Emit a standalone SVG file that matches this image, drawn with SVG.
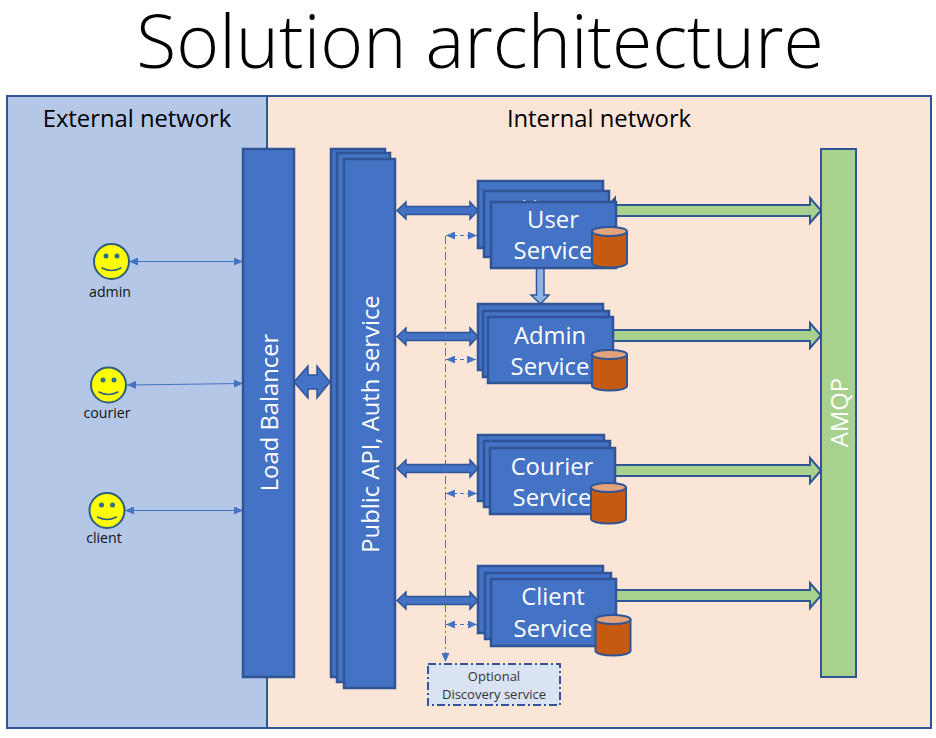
<svg xmlns="http://www.w3.org/2000/svg" width="936" height="738" viewBox="0 0 936 738">
<style>
text{font-family:"Open Sans","Noto Sans","Liberation Sans",sans-serif;text-anchor:middle}
.b{fill:#4472c4;stroke:#2f5597;stroke-width:2.5}
.ba{fill:#4472c4;stroke:#2f5597;stroke-width:1.5}
.g{fill:#a9d18e;stroke:#2f5597;stroke-width:2}
.w{fill:#fff;font-size:23.800px}
.h{fill:#000;font-size:23.800px}
.s{fill:#111;font-size:14.200px}
.f{fill:#ffff00;stroke:#2f5f7f;stroke-width:2}
.e{fill:#2f6f7f;stroke:none}
.m{fill:none;stroke:#2f5f7f;stroke-width:1.5;stroke-linecap:round}
.c{fill:#c55a11;stroke:#2f5597;stroke-width:2}
.t{fill:#e2a27c;stroke:#2f5597;stroke-width:2}
.thin{stroke:#4472c4;stroke-width:1;fill:none;marker-start:url(#as);marker-end:url(#ae)}
.dash{stroke:#4472c4;stroke-width:1;fill:none;stroke-dasharray:4 3;marker-start:url(#as);marker-end:url(#ae)}
</style>
<defs>
<marker id="ae" markerUnits="userSpaceOnUse" markerWidth="9" markerHeight="8" refX="9" refY="4" orient="auto"><path d="M0 0L9 4L0 8Z" fill="#4472c4"/></marker>
<marker id="as" markerUnits="userSpaceOnUse" markerWidth="9" markerHeight="8" refX="0" refY="4" orient="auto"><path d="M9 0L0 4L9 8Z" fill="#4472c4"/></marker>
<g id="cyl"><path class="c" d="M0 4.500V36a17.500 4.500 0 0 0 35 0V4.500Z"/><ellipse class="t" cx="17.500" cy="4.500" rx="17.500" ry="4.500"/></g>
</defs>
<rect width="936" height="738" fill="#fff"/>
<text id="title" x="480" y="68" font-size="73.300" font-weight="300" fill="#000">Solution architecture</text>
<g id="external-network"><rect x="7" y="96" width="260" height="632" fill="#b4c7e7" stroke="#2f5597" stroke-width="2"/><text class="h" x="137" y="127">External network</text></g>
<g id="internal-network"><rect x="267" y="96" width="664" height="632" fill="#fbe5d6" stroke="#2f5597" stroke-width="2"/><text class="h" x="599" y="127">Internal network</text></g>

<g id="connectors">
<path class="thin" d="M129 261.500H243"/>
<path class="thin" d="M127 385L243 383.500"/>
<path class="thin" d="M125 510.500H243"/>
<path class="ba" d="M294 382L308 366V375H317V366L330 382L317 398V389H308V398Z"/>
<path class="ba" d="M397 210.500L406 202V206.500H470V202L478 210.500L470 219V214.500H406V219Z"/>
<path class="ba" d="M397 336.500L406 328V332.500H470V328L478 336.500L470 345V340.500H406V345Z"/>
<path class="ba" d="M397 468.500L406 460V464.500H470V460L478 468.500L470 477V472.500H406V477Z"/>
<path class="ba" d="M397 600.500L406 592V596.500H470V592L478 600.500L470 609V604.500H406V609Z"/>
<path class="g" d="M604 210.500L615 198V205H810V198L821 210.500L810 223V216H615V223Z"/>
<path class="g" d="M610 330H810V323L821 335.500L810 348V341H610Z"/>
<path class="g" d="M610 465H810V458L821 470.500L810 483V476H610Z"/>
<path class="g" d="M610 590H810V583L821 595.500L810 608V601H610Z"/>
<path d="M536.500 268H544V295H549L540.500 304L531 295H536.500Z" fill="#8fb4e3" stroke="#2f5597" stroke-width="1.500"/>
<path class="dash" d="M446 235.500H477"/>
<path class="dash" d="M446 359.500H476"/>
<path class="dash" d="M446 493.500H477"/>
<path class="dash" d="M446 624.500H477"/>
<path d="M445.500 236V662" stroke="#4472c4" stroke-width="1" fill="none" stroke-dasharray="8 3 2 3" marker-end="url(#ae)"/>
</g>

<g id="load-balancer"><rect class="b" x="243" y="149" width="51" height="528"/><text class="w" transform="translate(278 412.500) rotate(-90)">Load Balancer</text></g>
<g id="public-api"><rect class="b" x="331" y="149" width="54" height="528"/><rect class="b" x="337" y="153" width="53" height="529"/><rect class="b" x="344" y="159" width="51" height="529"/><text class="w" transform="translate(379 424) rotate(-90)">Public API, Auth service</text></g>
<g id="amqp"><rect class="g" x="821" y="149" width="35" height="528"/><text class="w" transform="translate(848 412.500) rotate(-90)">AMQP</text></g>

<g id="user-service"><rect class="b" x="478" y="181" width="125" height="67"/><rect class="b" x="484" y="191" width="125" height="66"/><text class="w" x="547" y="217">User</text><rect class="b" x="491" y="202" width="125" height="66"/><text class="w" x="553" y="228">User</text><text class="w" x="553" y="259">Service</text><use href="#cyl" x="592" y="227"/></g>
<g id="admin-service"><rect class="b" x="478" y="304" width="125" height="66"/><rect class="b" x="483" y="311" width="126" height="66"/><rect class="b" x="488" y="317" width="125" height="66"/><text class="w" x="550" y="344">Admin</text><text class="w" x="550" y="375">Service</text><use href="#cyl" x="592" y="350"/></g>
<g id="courier-service"><rect class="b" x="478" y="435" width="126" height="66"/><rect class="b" x="484" y="441" width="126" height="66"/><rect class="b" x="490" y="448" width="125" height="66"/><text class="w" x="552" y="475">Courier</text><text class="w" x="552" y="506">Service</text><use href="#cyl" x="591" y="483"/></g>
<g id="client-service"><rect class="b" x="478" y="566" width="125" height="67"/><rect class="b" x="485" y="573" width="126" height="66"/><rect class="b" x="491" y="579" width="125" height="67"/><text class="w" x="553" y="605">Client</text><text class="w" x="553" y="637">Service</text><use href="#cyl" x="595.500" y="615"/></g>

<g id="discovery-service"><rect x="428" y="664" width="132" height="41" fill="#dae3f3" stroke="#2f5597" stroke-width="2" stroke-dasharray="8 3 2 3"/><text x="494" y="681" font-size="13" fill="#333">Optional</text><text x="494" y="699" font-size="13" fill="#333">Discovery service</text></g>

<g id="admin"><circle class="f" cx="111.500" cy="261.500" r="17.500"/><circle class="e" cx="106" cy="256" r="2.500"/><circle class="e" cx="117" cy="256" r="2.500"/><path class="m" d="M102 268Q111.500 273 121 268"/><text class="s" x="110" y="297">admin</text></g>
<g id="courier"><circle class="f" cx="108.500" cy="385" r="17.500"/><circle class="e" cx="103" cy="380" r="2.500"/><circle class="e" cx="114" cy="380" r="2.500"/><path class="m" d="M99 392Q108.500 397 118 392"/><text class="s" x="107" y="418">courier</text></g>
<g id="client"><circle class="f" cx="107" cy="510.500" r="17.500"/><circle class="e" cx="101.500" cy="505" r="2.500"/><circle class="e" cx="112.500" cy="505" r="2.500"/><path class="m" d="M97.500 517Q107 522 116.500 517"/><text class="s" x="104" y="543">client</text></g>
</svg>
